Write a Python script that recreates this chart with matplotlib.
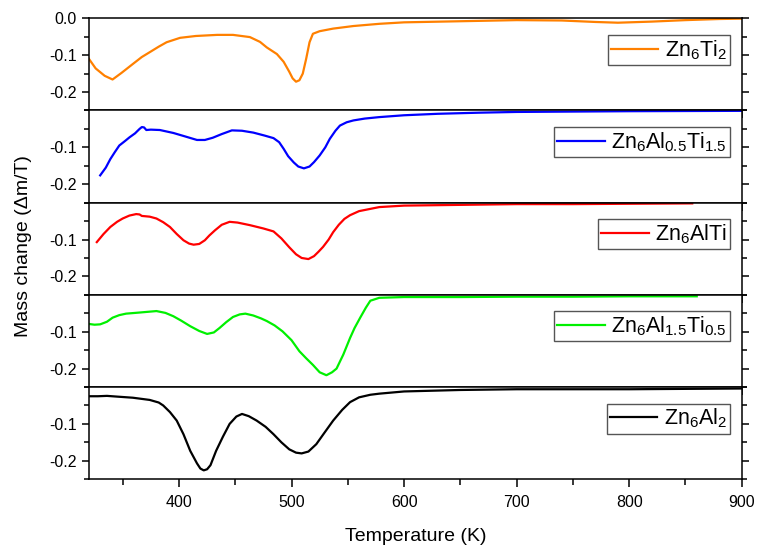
import numpy as np
import matplotlib
matplotlib.use("Agg")
import matplotlib.pyplot as plt
from matplotlib.ticker import FixedLocator, MultipleLocator

plt.rcParams['font.family'] = ['Liberation Sans', 'DejaVu Sans']
plt.rcParams['mathtext.fontset'] = 'custom'
plt.rcParams['mathtext.rm'] = 'Liberation Sans'
plt.rcParams['mathtext.it'] = 'Liberation Sans:italic'

# Mass change vs temperature for each alloy (K, dm/T)
t_zn6ti2 = [320, 326, 334, 341, 349, 359, 367, 374, 382, 389, 401, 415, 434, 448,
            463, 472, 478, 487, 493, 498, 501, 504, 507, 510, 513, 516, 519, 525,
            537, 555, 578, 600, 650, 700, 740, 770, 790, 820, 850, 880, 900]
m_zn6ti2 = [-0.110, -0.136, -0.156, -0.166, -0.148, -0.124, -0.105, -0.092, -0.077,
            -0.065, -0.053, -0.048, -0.045, -0.045, -0.051, -0.064, -0.079, -0.097,
            -0.118, -0.145, -0.163, -0.172, -0.168, -0.150, -0.110, -0.065, -0.042,
            -0.035, -0.028, -0.021, -0.015, -0.011, -0.008, -0.005, -0.006, -0.010,
            -0.012, -0.009, -0.005, -0.002, -0.001]

t_al05 = [330, 335, 339, 343, 347, 352, 356, 361, 365, 367, 369, 371, 375, 383, 395,
          405, 416, 423, 430, 438, 447, 456, 466, 476, 484, 489, 493, 497, 502, 506,
          511, 516, 520, 525, 530, 534, 539, 543, 549, 555, 565, 578, 600, 630, 667,
          700, 800, 900]
m_al05 = [-0.176, -0.155, -0.132, -0.113, -0.095, -0.083, -0.073, -0.062, -0.050,
          -0.045, -0.046, -0.053, -0.052, -0.053, -0.061, -0.070, -0.080, -0.080,
          -0.074, -0.064, -0.054, -0.055, -0.060, -0.068, -0.075, -0.086, -0.104,
          -0.124, -0.141, -0.152, -0.157, -0.152, -0.140, -0.122, -0.100, -0.077,
          -0.055, -0.041, -0.032, -0.027, -0.022, -0.018, -0.013, -0.009, -0.006,
          -0.004, -0.002, -0.001]

t_al1 = [327, 333, 339, 345, 350, 356, 362, 365, 367, 374, 380, 386, 392, 398, 404,
         409, 413, 418, 423, 427, 432, 438, 445, 452, 463, 475, 484, 491, 498, 504,
         509, 515, 520, 524, 528, 533, 537, 542, 547, 552, 560, 578, 600, 650, 700,
         750, 800, 856]
m_al1 = [-0.107, -0.085, -0.066, -0.052, -0.043, -0.035, -0.031, -0.032, -0.036,
         -0.038, -0.043, -0.053, -0.066, -0.085, -0.102, -0.111, -0.114, -0.112,
         -0.102, -0.089, -0.075, -0.060, -0.052, -0.054, -0.061, -0.070, -0.078,
         -0.097, -0.121, -0.140, -0.150, -0.153, -0.145, -0.133, -0.120, -0.100,
         -0.080, -0.060, -0.044, -0.034, -0.023, -0.012, -0.008, -0.006, -0.004,
         -0.004, -0.003, -0.002]

t_al15 = [320, 325, 330, 336, 341, 347, 353, 365, 380, 388, 395, 402, 410, 418, 425,
          431, 436, 442, 448, 454, 459, 466, 473, 478, 485, 492, 500, 507, 513, 519,
          525, 531, 536, 540, 546, 552, 556, 561, 566, 570, 578, 600, 650, 700, 750,
          800, 860]
m_al15 = [-0.079, -0.081, -0.080, -0.073, -0.062, -0.055, -0.051, -0.048, -0.044,
          -0.049, -0.058, -0.070, -0.085, -0.098, -0.106, -0.102, -0.090, -0.074,
          -0.060, -0.053, -0.051, -0.056, -0.064, -0.071, -0.083, -0.099, -0.123,
          -0.153, -0.172, -0.190, -0.210, -0.218, -0.210, -0.200, -0.162, -0.117,
          -0.090, -0.062, -0.035, -0.016, -0.008, -0.006, -0.006, -0.005, -0.005,
          -0.004, -0.004]

t_al2 = [320, 328, 336, 345, 359, 374, 382, 386, 392, 398, 404, 410, 416, 419, 422,
         425, 428, 433, 439, 445, 451, 456, 462, 469, 477, 484, 491, 498, 504, 509,
         515, 522, 529, 537, 545, 552, 560, 570, 578, 600, 650, 700, 750, 800, 850,
         900]
m_al2 = [-0.025, -0.025, -0.024, -0.026, -0.029, -0.035, -0.042, -0.050, -0.068,
         -0.091, -0.128, -0.173, -0.207, -0.221, -0.226, -0.223, -0.212, -0.173,
         -0.135, -0.100, -0.080, -0.073, -0.079, -0.091, -0.108, -0.128, -0.150,
         -0.169, -0.178, -0.180, -0.175, -0.155, -0.125, -0.091, -0.062, -0.041,
         -0.028, -0.021, -0.018, -0.012, -0.008, -0.006, -0.006, -0.006, -0.005,
         -0.004]

labels = [r'Zn$_6$Ti$_2$', r'Zn$_6$Al$_{0.5}$Ti$_{1.5}$', r'Zn$_6$AlTi',
          r'Zn$_6$Al$_{1.5}$Ti$_{0.5}$', r'Zn$_6$Al$_2$']
colors = ['#ff8000', '#0000ff', '#ff0000', '#00f000', '#000000']
temps = [t_zn6ti2, t_al05, t_al1, t_al15, t_al2]
masses = [m_zn6ti2, m_al05, m_al1, m_al15, m_al2]

fig, axes = plt.subplots(5, 1, figsize=(7.6, 5.54), dpi=100, sharex=True,
                         gridspec_kw={'hspace': 0})
fig.subplots_adjust(left=0.117, right=0.976, top=0.967, bottom=0.135)

for i, ax in enumerate(axes):
    ax.plot(temps[i], masses[i], color=colors[i], lw=1.6, label=labels[i])
    ax.set_xlim(320, 900)
    ax.set_ylim(-0.25, 0.0)
    if i == 0:
        ax.yaxis.set_major_locator(FixedLocator([-0.2, -0.1, 0.0]))
    else:
        ax.yaxis.set_major_locator(FixedLocator([-0.2, -0.1]))
    ax.yaxis.set_major_formatter(plt.FuncFormatter(lambda v, p: f'{v:.1f}'))
    ax.yaxis.set_minor_locator(MultipleLocator(0.05))
    ax.xaxis.set_major_locator(MultipleLocator(100))
    ax.xaxis.set_minor_locator(MultipleLocator(50))
    for s in ax.spines.values():
        s.set_linewidth(1.1)
    ax.tick_params(axis='y', which='both', direction='out', left=True, right=True,
                   labelsize=11.5, width=1.1)
    ax.tick_params(axis='y', which='major', length=5)
    ax.tick_params(axis='y', which='minor', length=3.5)
    ax.tick_params(axis='x', which='both', direction='out', width=1.1,
                   labelsize=11.5, top=False)
    if i < 4:
        ax.tick_params(axis='x', which='major', length=5.5)
        ax.tick_params(axis='x', which='minor', length=0)
    else:
        ax.tick_params(axis='x', which='major', length=5.5, pad=6)
        ax.tick_params(axis='x', which='minor', length=4.5)
    leg = ax.legend(loc='upper right', bbox_to_anchor=(0.982, 0.82), fontsize=15.5,
                    frameon=True, fancybox=False, framealpha=1, handlelength=2.2,
                    borderpad=0.15, handletextpad=0.3, borderaxespad=0)
    leg.get_frame().set_edgecolor('#555555')
    leg.get_frame().set_linewidth(1.0)

axes[-1].set_xlabel('Temperature (K)', fontsize=14, labelpad=13)
fig.text(0.031, 0.555, 'Mass change (Δm/T)', rotation=90, fontsize=14,
         ha='center', va='center')

plt.savefig('out.png', dpi=100)
